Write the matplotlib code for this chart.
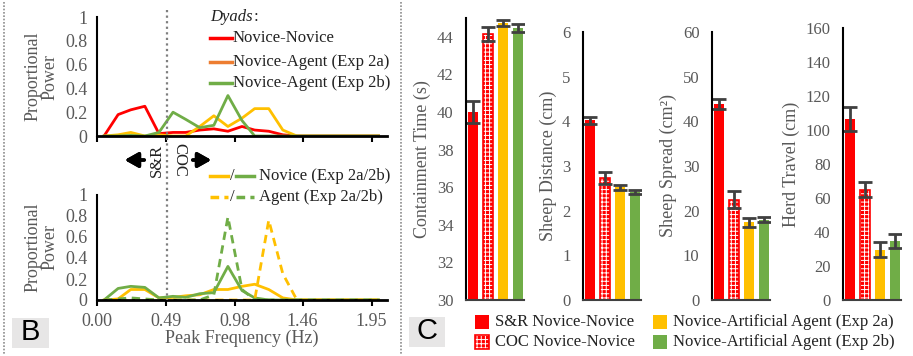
import numpy as np
import matplotlib
matplotlib.use('Agg')
import matplotlib.pyplot as plt
from matplotlib.lines import Line2D
from matplotlib.patches import Rectangle

plt.rcParams['font.family'] = ['Liberation Serif', 'DejaVu Serif']
plt.rcParams['hatch.linewidth'] = 0.7

RED = '#FF0000'
YEL = '#FFC000'
GRN = '#70AD47'
ORG = '#ED7D31'
GREY = '#595959'

## spectrum data (bin centres, Hz)
freq = [0.05, 0.15, 0.24, 0.34, 0.44, 0.54, 0.63, 0.73, 0.83, 0.93, 1.03,
        1.12, 1.22, 1.32, 1.42, 1.51, 1.61, 1.71, 1.81, 1.90, 2.00]
nn_dyad = [0, 0.18, 0.22, 0.25, 0.02, 0.03, 0.03, 0.05, 0.06, 0.04, 0.08,
           0.05, 0.04, 0.01, 0, 0, 0, 0, 0, 0, 0]
na_2a = [0, 0.01, 0.03, 0, 0.01, 0, 0, 0.08, 0.17, 0.08, 0.15,
         0.23, 0.23, 0.05, 0, 0, 0, 0, 0, 0, 0]
na_2b = [0, 0, 0.005, 0, 0.03, 0.20, 0.14, 0.07, 0.09, 0.34, 0.13,
         0, 0, 0, 0, 0, 0, 0, 0, 0, 0]
nov_2a = [0, 0.01, 0.10, 0.10, 0.02, 0.025, 0.04, 0.05, 0.10, 0.10, 0.13,
          0.15, 0.10, 0.02, 0, 0, 0, 0, 0, 0, 0]
nov_2b = [0, 0.11, 0.13, 0.12, 0.02, 0.035, 0.025, 0.06, 0.07, 0.32, 0.09,
          0.02, 0, 0, 0, 0, 0, 0, 0, 0, 0]
ag_2a = [0, 0, 0, 0, 0, 0, 0, 0, 0, 0, 0,
         0, 0.76, 0.25, 0, 0, 0, 0, 0, 0, 0]
ag_2b = [0, 0.01, 0.02, 0.01, 0, 0, 0, 0, 0.05, 0.79, 0.10,
         0, 0, 0, 0, 0, 0, 0, 0, 0, 0]
freq_ticks = [0.00, 0.49, 0.98, 1.46, 1.95]
power_ticks = [0, 0.2, 0.4, 0.6, 0.8, 1]
power_labels = ['0', '0.2', '0.4', '0.6', '0.8', '1']

## bar data: S&R NN, COC NN, NA 2a, NA 2b
bar_labels = ['S&R Novice-Novice', 'COC Novice-Novice',
              'Novice-Artificial Agent (Exp 2a)', 'Novice-Artificial Agent (Exp 2b)']
cont_time = [40.0, 44.15, 44.75, 44.45]
cont_time_err = [0.6, 0.35, 0.15, 0.22]
sheep_dist = [4.02, 2.73, 2.52, 2.42]
sheep_dist_err = [0.07, 0.14, 0.05, 0.05]
sheep_spread = [43.9, 22.5, 17.4, 18.0]
sheep_spread_err = [1.2, 2.0, 1.0, 0.5]
herd_travel = [106.5, 65.0, 29.7, 34.6]
herd_travel_err = [7.0, 4.6, 4.6, 4.2]

W, H = 913, 356
fig = plt.figure(figsize=(W / 100, H / 100), dpi=100)


def box(x0, y0, x1, y1):
    # pixel box (top-left origin) -> fig rect
    return [x0 / W, 1 - y1 / H, (x1 - x0) / W, (y1 - y0) / H]


def fx(x):
    return x / W


def fy(y):
    return 1 - y / H


def style_spec(ax):
    ax.set_xlim(0, 2.06)
    ax.set_ylim(0, 1)
    for s in ['top', 'right']:
        ax.spines[s].set_visible(False)
    ax.spines['left'].set_linewidth(1.5)
    ax.spines['bottom'].set_linewidth(2)
    ax.set_yticks(power_ticks)
    ax.set_yticklabels(power_labels)
    ax.set_xticks(freq_ticks)
    ax.tick_params(axis='y', length=0, pad=7, labelsize=13, labelcolor=GREY)
    ax.tick_params(axis='x', length=4, width=1.5, direction='out', labelsize=13,
                   labelcolor=GREY, pad=5)
    ax.set_ylabel('Proportional\nPower', fontsize=13, color=GREY, linespacing=0.95,
                  labelpad=5)
    ax.patch.set_alpha(0)


# top spectrum
ax1 = fig.add_axes(box(97, 17, 387, 136))
ax1.plot(freq, nn_dyad, color=RED, lw=2)
ax1.plot(freq, na_2a, color=YEL, lw=2)
ax1.plot(freq, na_2b, color=GRN, lw=2)
style_spec(ax1)
ax1.set_xticklabels([])

# bottom spectrum
ax2 = fig.add_axes(box(97, 195, 387, 300))
ax2.plot(freq, nov_2a, color=YEL, lw=2)
ax2.plot(freq, nov_2b, color=GRN, lw=2)
ax2.plot(freq, ag_2a, color=YEL, lw=2, ls=(0, (3, 2)))
ax2.plot(freq, ag_2b, color=GRN, lw=2, ls=(0, (3, 2)))
ax2.plot([freq[0], freq[-1]], [0, 0], color='black', lw=2, ls=(0, (1, 4)))
style_spec(ax2)
ax2.set_xticklabels(['%.2f' % t for t in freq_ticks])
ax2.set_xlabel('Peak Frequency (Hz)', fontsize=13, color=GREY, labelpad=0)

# legends of panel B
dy = fig.text(fx(210), fy(17), 'Dyads', fontsize=12, style='italic', va='center',
              color='#222222')
fig.canvas.draw()
bb = dy.get_window_extent()
fig.text(bb.x1 / W + 0.5 / W, fy(17), ':', fontsize=12, va='center', color='#222222')
for y, c, t in [(38, RED, 'Novice-Novice'), (62, ORG, 'Novice-Agent (Exp 2a)'),
                (83, GRN, 'Novice-Agent (Exp 2b)')]:
    fig.add_artist(Line2D([fx(210), fx(232)], [fy(y), fy(y)], color=c, lw=2.5))
    fig.text(fx(233), fy(y), t, fontsize=12, va='center', color='#222222')
for y, ls, t in [(176, '-', 'Novice (Exp 2a/2b)'), (197, (0, (2.5, 1.5)), 'Agent (Exp 2a/2b)')]:
    fig.add_artist(Line2D([fx(210), fx(228)], [fy(y), fy(y)], color=YEL, lw=2.5, ls=ls))
    fig.text(fx(232), fy(y), '/', fontsize=12, va='center', ha='center', color='#222222')
    fig.add_artist(Line2D([fx(236), fx(254)], [fy(y), fy(y)], color=GRN, lw=2.5, ls=ls))
    fig.text(fx(259), fy(y), t, fontsize=12, va='center', color='#222222')

# S&R / COC divider
fig.add_artist(Line2D([fx(167), fx(167)], [fy(10), fy(300)], color='#7f7f7f', lw=1.6,
                      ls=(0, (1, 1.5))))
fig.text(fx(157), fy(160), 'S&R', rotation=90, fontsize=12, ha='center', va='center',
         color='#222222')
fig.text(fx(179), fy(160), 'COC', rotation=270, fontsize=12, ha='center', va='center',
         color='#222222')
fig.add_artist(plt.annotate('', xy=(122, H - 160), xytext=(147, H - 160),
                            xycoords='figure pixels', textcoords='figure pixels',
                            arrowprops=dict(arrowstyle='-|>,head_length=0.8,head_width=0.45',
                                            color='black', lw=2.5)))
fig.add_artist(plt.annotate('', xy=(214, H - 160), xytext=(190, H - 160),
                            xycoords='figure pixels', textcoords='figure pixels',
                            arrowprops=dict(arrowstyle='-|>,head_length=0.8,head_width=0.45',
                                            color='black', lw=2.5)))

# panel separators
for x in [4, 401]:
    fig.add_artist(Line2D([fx(x), fx(x)], [fy(2), fy(354)], color='#8c8c8c', lw=1.2,
                          ls=(0, (1, 1))))

# panel letters
for x0, x1, y0, y1, t in [(12, 49, 318, 348, 'B'), (409, 445, 317, 347, 'C')]:
    fig.add_artist(Rectangle((fx(x0), fy(y1)), (x1 - x0) / W, (y1 - y0) / H,
                             transform=fig.transFigure, facecolor='#E7E6E6', edgecolor='none'))
    fig.text(fx((x0 + x1) / 2), fy((y0 + y1) / 2 - 1), t, fontsize=21, ha='center',
             va='center', family='Liberation Sans')

## bar panels
colors = [RED, RED, YEL, GRN]
hatches = [None, '++++', None, None]
panels = [
    (466, 18, cont_time, cont_time_err, (30, 45), list(range(30, 45, 2)), 'Containment Time (s)'),
    (583, 32, sheep_dist, sheep_dist_err, (0, 6), list(range(0, 7)), 'Sheep Distance (cm)'),
    (712, 32, sheep_spread, sheep_spread_err, (0, 60), list(range(0, 61, 10)),
     'Sheep Spread (cm\u00b2)'),
    (843, 28, herd_travel, herd_travel_err, (0, 160), list(range(0, 161, 20)), 'Herd Travel (cm)'),
]
xpos = np.arange(4)
for left, top, vals, errs, ylim, yt, lab in panels:
    ax = fig.add_axes(box(left, top, left + 58, 300))
    for i in range(4):
        if hatches[i]:
            ax.bar(xpos[i], vals[i], width=0.66, color=colors[i], hatch=hatches[i],
                   edgecolor='white', linewidth=0)
            ax.bar(xpos[i], vals[i], width=0.66, fill=False, edgecolor=colors[i],
                   linewidth=1.2)
        else:
            ax.bar(xpos[i], vals[i], width=0.66, color=colors[i], linewidth=0)
        ax.errorbar(xpos[i], vals[i], yerr=errs[i], color='#404040', capsize=5,
                    elinewidth=2, capthick=2)
    ax.set_xlim(-0.47, 3.4)
    ax.set_ylim(*ylim)
    ax.set_yticks(yt)
    ax.set_xticks([])
    for s in ['top', 'right']:
        ax.spines[s].set_visible(False)
    ax.spines['left'].set_linewidth(1.5)
    ax.spines['bottom'].set_linewidth(1.5)
    ax.spines['bottom'].set_color('#404040')
    ax.tick_params(axis='y', length=0, pad=9, labelsize=12, labelcolor=GREY)
    ax.set_ylabel(lab, fontsize=13, color=GREY, labelpad=4)
    ax.patch.set_alpha(0)

# legend of panel C
for (x, y), c, h, t in zip([(475, 322), (475, 342), (653, 322), (653, 342)],
                           colors, hatches, bar_labels):
    if h:
        fig.add_artist(Rectangle((fx(x), fy(y + 7)), 14 / W, 14 / H, transform=fig.transFigure,
                                 facecolor=c, hatch=h, edgecolor='white', lw=0))
        fig.add_artist(Rectangle((fx(x), fy(y + 7)), 14 / W, 14 / H, transform=fig.transFigure,
                                 fill=False, edgecolor=c, lw=1.2))
    else:
        fig.add_artist(Rectangle((fx(x), fy(y + 7)), 14 / W, 14 / H, transform=fig.transFigure,
                                 facecolor=c, lw=0))
    fig.text(fx(x + 20), fy(y), t, fontsize=12, va='center', color='#222222')

fig.savefig('out.png', dpi=100)
